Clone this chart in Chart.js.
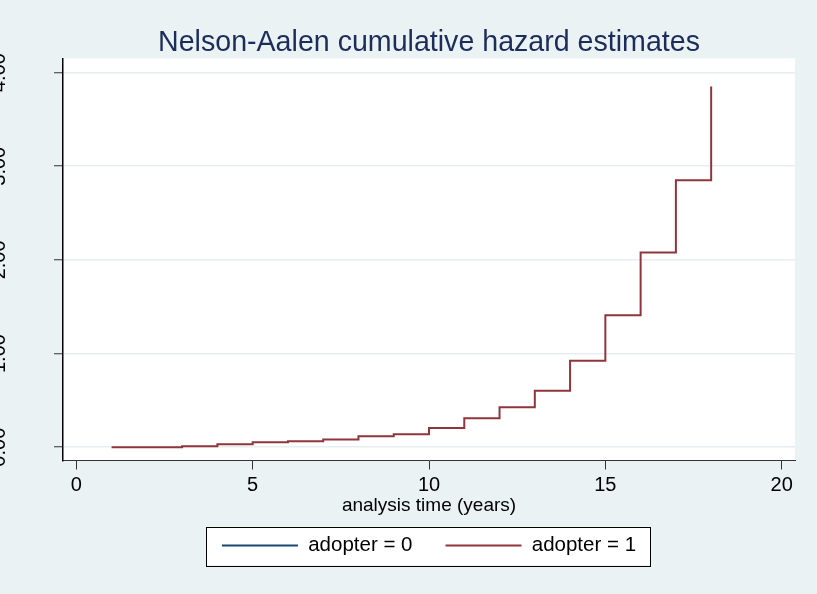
<!DOCTYPE html>
<html>
<head>
<meta charset="utf-8">
<script src="https://cdn.jsdelivr.net/npm/chart.js@4.4.1/dist/chart.umd.min.js"></script>
<style>
  html, body { margin: 0; padding: 0; background: #EAF2F3; }
  canvas { display: block; }
</style>
</head>
<body>
<canvas id="chart" width="817" height="594"></canvas>
<script>
// analysis time (years) and cumulative hazard for adopter = 1
const times = [1, 2, 3, 4, 5, 6, 7, 8, 9, 10, 11, 12, 13, 14, 15, 16, 17, 18];
const hazard1 = [0, 0, 0.011, 0.032, 0.053, 0.064, 0.083, 0.117, 0.139, 0.204, 0.309, 0.426, 0.604, 0.924, 1.41, 2.08, 2.85, 3.85];
// adopter = 0 has no visible curve
const times0 = [];
const hazard0 = [];
const seriesLabels = ['adopter = 0', 'adopter = 1'];
const xTicks = [0, 5, 10, 15, 20];
const yTicks = [0, 1, 2, 3, 4];

Chart.defaults.font.family = "'Liberation Sans', Arial, sans-serif";
Chart.defaults.color = '#000';

// fond gris-bleu, zone du graphe en blanc, cadre de la légende
const backdrop = {
    id: 'backdrop',
    beforeDraw(chart) {
        const { ctx, chartArea: a } = chart;
        ctx.save();
        ctx.fillStyle = '#EAF2F3';
        ctx.fillRect(0, 0, chart.width, chart.height);
        ctx.fillStyle = '#FFFFFF';
        ctx.fillRect(a.left, a.top, a.right - a.left, a.bottom - a.top);

        const hb = chart.legend.legendHitBoxes;
        if (hb && hb.length) {
            const last = hb[hb.length - 1];
            const l = hb[0].left - 16;
            const r = last.left + last.width + 14;
            const t = hb[0].top - 8.5;
            const b = hb[0].top + hb[0].height + 9.5;
            ctx.fillStyle = '#FFFFFF';
            ctx.fillRect(l, t, r - l, b - t);
            ctx.strokeStyle = '#000';
            ctx.lineWidth = 1;
            ctx.strokeRect(Math.round(l) + 0.5, Math.round(t) + 0.5, Math.round(r - l), Math.round(b - t));
        }
        ctx.restore();
    }
};

new Chart(document.getElementById('chart'), {
    type: 'line',
    data: {
        datasets: [
            {
                label: seriesLabels[0],
                data: times0.map((t, i) => ({ x: t, y: hazard0[i] })),
                borderColor: '#1A476F',
                backgroundColor: '#1A476F',
                borderWidth: 2,
                pointRadius: 0,
                stepped: 'before'
            },
            {
                label: seriesLabels[1],
                data: times.map((t, i) => ({ x: t, y: hazard1[i] })),
                borderColor: '#90353B',
                backgroundColor: '#90353B',
                borderWidth: 2,
                pointRadius: 0,
                stepped: 'before'
            }
        ]
    },
    options: {
        responsive: false,
        animation: false,
        layout: { padding: { left: 0, right: 22, top: 0, bottom: 28.3 } },
        plugins: {
            title: {
                display: true,
                text: 'Nelson-Aalen cumulative hazard estimates',
                color: '#1C2D5A',
                fullSize: false,
                font: { size: 28.6, weight: 'normal' },
                padding: { top: 25.5, bottom: -1.5 }
            },
            legend: {
                position: 'bottom',
                fullSize: false,
                labels: {
                    usePointStyle: true,
                    pointStyle: 'line',
                    pointStyleWidth: 76,
                    padding: 33,
                    color: '#000',
                    font: { size: 20.5 }
                }
            },
            tooltip: { enabled: false }
        },
        scales: {
            x: {
                type: 'linear',
                min: -0.377,
                max: 20.377,
                afterBuildTicks: s => { s.ticks = xTicks.map(v => ({ value: v })); },
                afterFit: s => { s.height = 41.7; },
                grid: { display: true, drawOnChartArea: false, drawTicks: true, tickLength: 9, tickColor: '#333', tickWidth: 1 },
                border: { display: true, color: '#333', width: 1 },
                ticks: { autoSkip: false, maxRotation: 0, padding: 4, color: '#000', font: { size: 20 } },
                title: {
                    display: true,
                    text: 'analysis time (years)',
                    color: '#000',
                    font: { size: 19 },
                    padding: { top: 0, bottom: -14.5 }
                }
            },
            y: {
                type: 'linear',
                min: -0.142,
                max: 4.152,
                afterBuildTicks: s => { s.ticks = yTicks.map(v => ({ value: v })); },
                afterFit: s => { s.width = 63; },
                grid: { color: '#E6EEF1', lineWidth: 1.5, drawTicks: true, tickLength: 9, tickColor: '#333', tickWidth: 1 },
                border: { display: true, color: '#000', width: 1.5 },
                ticks: {
                    autoSkip: false,
                    minRotation: 90,
                    maxRotation: 90,
                    crossAlign: 'center',
                    padding: 35.5,
                    color: '#000',
                    font: { size: 20 },
                    callback: v => v.toFixed(2)
                }
            }
        }
    },
    plugins: [backdrop]
});
</script>
</body>
</html>
